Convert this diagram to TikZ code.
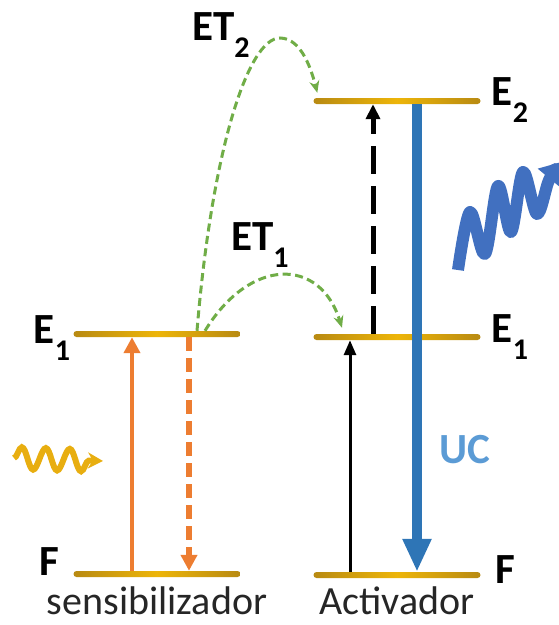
\documentclass[tikz,border=0pt]{standalone}
\usepackage{fontspec}
\setmainfont{Carlito}
\usepackage{tikz}
\usetikzlibrary{arrows.meta,positioning,decorations.pathmorphing}
\definecolor{lvldark}{HTML}{B88A12}
\definecolor{lvllight}{HTML}{EDB509}
\definecolor{orng}{HTML}{ED7D31}
\definecolor{grn}{HTML}{70AD47}
\definecolor{ucblue}{HTML}{2E75B6}
\definecolor{uclight}{HTML}{5B9BD5}
\definecolor{wblue}{HTML}{4170C0}
\definecolor{wgold}{HTML}{E8AE10}
\newcommand\lowidx[1]{\raisebox{-17pt}{\fontsize{30}{30}\selectfont #1}}
\tikzset{
  level/.style={rectangle,inner sep=0pt,minimum width=167pt,minimum height=6pt,
    rounded corners=3pt,left color=lvldark,right color=lvldark,middle color=lvllight},
  lbl/.style={inner sep=0pt,font=\fontsize{43}{45}\selectfont\bfseries,text=black},
  molname/.style={inner sep=0pt,font=\fontsize{40}{42}\selectfont,text=black!85},
  exc/.style={-{Triangle[length=16pt,width=16pt]},line width=4pt,color=orng},
  relax/.style={-{Triangle[length=16pt,width=16pt]},line width=6pt,color=orng,
    dash pattern=on 14pt off 7pt},
  actexc/.style={-{Triangle[length=15pt,width=12pt]},line width=3pt,color=black},
  actup/.style={-{Triangle[length=15pt,width=14pt]},line width=5pt,color=black,
    dash pattern=on 28pt off 12pt},
  ucarrow/.style={-{Triangle[length=33pt,width=27pt]},line width=10pt,color=ucblue},
  et/.style={-{Stealth[length=12pt,width=10pt]},line width=3pt,color=grn,
    dash pattern=on 8pt off 4.5pt},
  wavein/.style={decorate,decoration={snake,amplitude=11pt,segment length=24pt,post length=14pt},
    -{Stealth[length=15pt,width=16pt]},line width=6pt,color=wgold},
  waveout/.style={-{Triangle[length=20pt,width=26pt]},line width=12pt,color=wblue,
    line join=round}
}
\begin{document}
\begin{tikzpicture}[x=1pt,y=-1pt]
  \useasboundingbox (0,0) rectangle (558,625);
  \foreach \n/\x/\y in {sF/157/574,sE1/157/334,aF/397/575,aE1/397/337,aE2/397/101}
    {\node[level] (\n) at (\x,\y) {};}
  \node[lbl,anchor=base east] (lE1) at ([xshift=-3pt,yshift=-9pt]sE1.west) {E\lowidx{1}};
  \node[lbl,anchor=base east] (lF) at ([xshift=-14pt,yshift=-1pt]sF.west) {F};
  \node[lbl,anchor=base west] (rE2) at ([xshift=11pt,yshift=-4pt]aE2.east) {E\lowidx{2}};
  \node[lbl,anchor=base west] (rE1) at ([xshift=11pt,yshift=-5pt]aE1.east) {E\lowidx{1}};
  \node[lbl,anchor=base west] (rF) at ([xshift=15pt,yshift=-8pt]aF.east) {F};
  \node[molname,anchor=base] (sens) at ([yshift=-40pt]sF.center) {sensibilizador};
  \node[molname,anchor=base] (act) at ([yshift=-39pt]aF.center) {Activador};
  \node[lbl,anchor=base west] (et2) at (192,40) {ET\lowidx{2}};
  \node[lbl,anchor=base west] (et1) at (231,250) {ET\lowidx{1}};
  \node[lbl,text=uclight] (uc) at (465,450) {UC};
  \draw[exc] ([xshift=-25pt]sF.north) -- ([xshift=-25pt]sE1.south);
  \draw[relax] ([xshift=32pt]sE1.south) -- ([xshift=32pt]sF.north);
  \draw[actexc] ([xshift=-47pt]aF.north) -- ([xshift=-47pt]aE1.south);
  \draw[actup] ([xshift=-24pt]aE1.north) -- ([xshift=-24pt]aE2.south);
  \draw[ucarrow] ([xshift=20pt]aE2.south) -- ([xshift=20pt]aF.north);
  \draw[et] ([xshift=48pt]sE1.north) .. controls (250,257) and (320,257)
    .. ([xshift=-55pt,yshift=6pt]aE1.north);
  \draw[et] ([xshift=40pt]sE1.north) .. controls (212,150) and (248,38) .. (280,38)
    .. controls (302,38) and (312,72) .. ([xshift=4pt,yshift=5pt]aE2.north west);
  \coordinate (inS) at (14,458);
  \coordinate (inE) at (103,461);
  \draw[wavein] (inS) -- (inE);
  \coordinate (outS) at (458,270);
  \coordinate (outE) at (561,162);
  \draw[waveout] plot[smooth,tension=0.55] coordinates
    {(outS) (470,212) (485,254) (498,186) (511,232) (523,172) (537,214) (549,180) (outE)};
\end{tikzpicture}
\end{document}
